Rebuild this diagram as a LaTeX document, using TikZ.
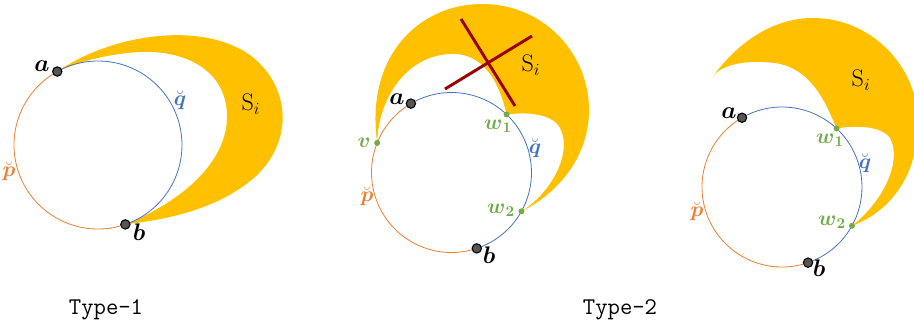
\RequirePackage{fix-cm}
\documentclass[tikz,border=0pt]{standalone}
\usepackage{amsmath}
\definecolor{pcol}{HTML}{ED7D31}
\definecolor{qcol}{HTML}{4472C4}
\definecolor{gcol}{HTML}{70AD47}
\definecolor{regcol}{HTML}{FFC000}
\definecolor{crosscol}{HTML}{990000}
\definecolor{dotgray}{HTML}{555555}
\begin{document}
\begin{tikzpicture}[x=0.75pt, y=-0.75pt,
    parc/.style={pcol, line width=0.6pt},
    qarc/.style={qcol, line width=0.6pt},
    region/.style={fill=regcol},
    bdot/.style={circle, draw=black, fill=dotgray, line width=0.8pt, inner sep=0pt, minimum size=7pt},
    gdot/.style={circle, fill=gcol, inner sep=0pt, minimum size=4.5pt},
    ptlbl/.style={font=\fontsize{18}{20}\selectfont},
    arclbl/.style={font=\fontsize{16}{18}\selectfont},
    glbl/.style={gcol, font=\fontsize{16}{18}\selectfont},
    slbl/.style={font=\fontsize{18}{20}\selectfont},
    typelbl/.style={font=\fontsize{18}{20}\selectfont\ttfamily}]
    \useasboundingbox (0,0) rectangle (914,329);
    \clip (0,0) rectangle (914,329);

    % Type-1
    \coordinate (c1) at (98,145);
    \path (c1) +(-119:84) coordinate (pa1) +(71:84) coordinate (pb1);
    \fill[region] (pa1) .. controls (110,35) and (200,20) .. (250,55)
        .. controls (290,85) and (295,140) .. (255,177)
        .. controls (215,212) and (160,220) .. (pb1)
        .. controls (185,200) and (228,160) .. (227,115)
        .. controls (226,70) and (185,50) .. (140,52)
        .. controls (105,54) and (75,63) .. (pa1) -- cycle;
    \draw[qarc] (pa1) arc[start angle=-119, end angle=71, radius=84];
    \draw[parc] (pb1) arc[start angle=71, end angle=241, radius=84];
    \node[bdot] (a1) at (pa1) {};
    \node[bdot] (b1) at (pb1) {};
    \node[ptlbl] (la1) at (42,66) {$\boldsymbol{a}$};
    \node[ptlbl] (lb1) at (139,232) {$\boldsymbol{b}$};
    \node[arclbl, qcol] (lq1) at (180,100) {$\breve{\boldsymbol{q}}$};
    \node[arclbl, pcol] (lp1) at (9,171) {$\breve{\boldsymbol{p}}$};
    \node[slbl] (ls1) at (251,104) {$\mathrm{S}_i$};
    \node[typelbl] (t1) at (106,310) {Type-1};

    % Type-2, crossed out
    \coordinate (c2) at (451.5,172.5);
    \path (c2) +(-120.5:80) coordinate (pa2) +(71.6:80) coordinate (pb2)
        +(-158.3:80) coordinate (pv2) +(-46.5:80) coordinate (pw12)
        +(29:80) coordinate (pw22);
    \fill[region] (pv2) .. controls (365,55) and (420,4) .. (482,4)
        .. controls (545,4) and (590,55) .. (589,112)
        .. controls (588,160) and (555,195) .. (pw22)
        .. controls (555,190) and (572,150) .. (560,128)
        .. controls (552,113) and (525,112) .. (pw12)
        .. controls (500,85) and (485,52) .. (450,54)
        .. controls (405,56) and (378,100) .. (pv2) -- cycle;
    \draw[qarc] (pa2) arc[start angle=-120.5, end angle=71.6, radius=80];
    \draw[parc] (pb2) arc[start angle=71.6, end angle=239.5, radius=80];
    \coordinate (x1s) at (461,19);
    \coordinate (x1e) at (515,106);
    \coordinate (x2s) at (445,89);
    \coordinate (x2e) at (532,36);
    \draw[crosscol, line width=2.2pt] (x1s) -- (x1e);
    \draw[crosscol, line width=2.2pt] (x2s) -- (x2e);
    \node[bdot] (a2) at (pa2) {};
    \node[bdot] (b2) at (pb2) {};
    \node[gdot] (v2) at (pv2) {};
    \node[gdot] (w12) at (pw12) {};
    \node[gdot] (w22) at (pw22) {};
    \node[ptlbl] (la2) at (397,99) {$\boldsymbol{a}$};
    \node[ptlbl] (lb2) at (489,255) {$\boldsymbol{b}$};
    \node[glbl] (lv2) at (364,143) {$\boldsymbol{v}$};
    \node[glbl] (lw12) at (498,126) {$\boldsymbol{w}_{\boldsymbol{1}}$};
    \node[glbl] (lw22) at (501,210) {$\boldsymbol{w}_{\boldsymbol{2}}$};
    \node[arclbl, qcol] (lq2) at (535,148) {$\breve{\boldsymbol{q}}$};
    \node[arclbl, pcol] (lp2) at (367,196) {$\breve{\boldsymbol{p}}$};
    \node[slbl] (ls2) at (531,65) {$\mathrm{S}_i$};
    \node[typelbl] (t2) at (620,310) {Type-2};

    % Type-2
    \coordinate (c3) at (782,187);
    \path (c3) +(-120:80) coordinate (pa3) +(71:80) coordinate (pb3)
        +(-47:80) coordinate (pw13) +(29:80) coordinate (pw23);
    \fill[region] (714,75) .. controls (740,40) and (775,18) .. (813,18)
        .. controls (870,18) and (918,65) .. (918,123)
        .. controls (918,175) and (890,212) .. (pw23)
        .. controls (885,200) and (902,160) .. (890,138)
        .. controls (882,126) and (855,125) .. (pw13)
        .. controls (825,100) and (810,68) .. (775,63)
        .. controls (750,60) and (725,63) .. (714,75) -- cycle;
    \draw[qarc] (pa3) arc[start angle=-120, end angle=71, radius=80];
    \draw[parc] (pb3) arc[start angle=71, end angle=240, radius=80];
    \node[bdot] (a3) at (pa3) {};
    \node[bdot] (b3) at (pb3) {};
    \node[gdot] (w13) at (pw13) {};
    \node[gdot] (w23) at (pw23) {};
    \node[ptlbl] (la3) at (729,113) {$\boldsymbol{a}$};
    \node[ptlbl] (lb3) at (819,268) {$\boldsymbol{b}$};
    \node[glbl] (lw13) at (830,140) {$\boldsymbol{w}_{\boldsymbol{1}}$};
    \node[glbl] (lw23) at (832,222) {$\boldsymbol{w}_{\boldsymbol{2}}$};
    \node[arclbl, qcol] (lq3) at (865,163) {$\breve{\boldsymbol{q}}$};
    \node[arclbl, pcol] (lp3) at (697,211) {$\breve{\boldsymbol{p}}$};
    \node[slbl] (ls3) at (861,80) {$\mathrm{S}_i$};
\end{tikzpicture}
\end{document}
